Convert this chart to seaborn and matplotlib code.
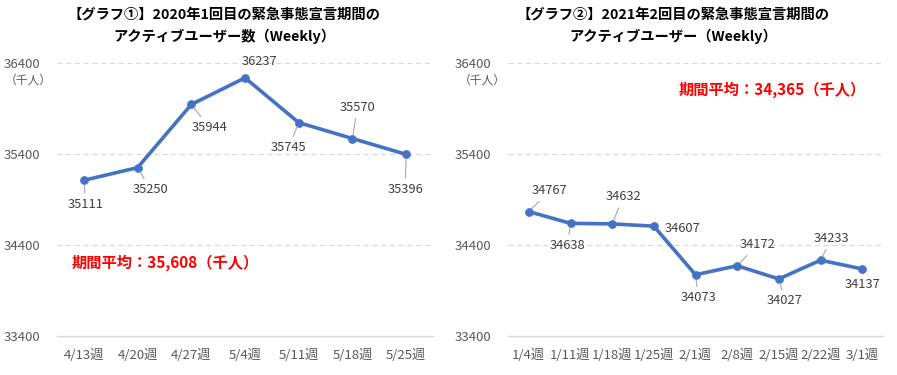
import matplotlib
matplotlib.use("Agg")
import matplotlib.pyplot as plt
import seaborn as sns
import pandas as pd

sns.set_theme(style="white")
plt.rcParams['font.family'] = ['Noto Sans CJK JP', 'DejaVu Sans']

# ---- data ----
weeks1 = ["4/13週", "4/20週", "4/27週", "5/4週", "5/11週", "5/18週", "5/25週"]
users1 = [35111, 35250, 35944, 36237, 35745, 35570, 35396]
title1 = "【グラフ①】2020年1回目の緊急事態宣言期間の\nアクティブユーザー数（Weekly）"
avg1 = "期間平均：35,608（千人）"

weeks2 = ["1/4週", "1/11週", "1/18週", "1/25週", "2/1週", "2/8週", "2/15週", "2/22週", "3/1週"]
users2 = [34767, 34638, 34632, 34607, 34073, 34172, 34027, 34233, 34137]
title2 = "【グラフ②】2021年2回目の緊急事態宣言期間の\nアクティブユーザー（Weekly）"
avg2 = "期間平均：34,365（千人）"

yticks = [33400, 34400, 35400, 36400]
unit = "（千人）"

# label offsets in pixels (dx, dy) and whether to draw a leader line
offs1 = [(2, -24, True), (13, -22, True), (18, -23, True), (14, 16, False),
         (-10, -25, True), (5, 31, True), (-1, -35, True)]
offs2 = [(21, 21, True), (-3, -22, True), (11, 27, True), (29, -2, False),
         (3, -23, True), (20, 21, True), (6, -22, True), (11, 22, True), (0, -16, False)]

W, H = 897, 375
fig = plt.figure(figsize=(W / 100, H / 100), dpi=100)

LINE = "#4472C4"
GRAY = "#595959"


def draw(ax_rect, weeks, users, title, avg, offs, avg_pos, title_x, unit_x):
    ax = fig.add_axes(ax_rect)
    df = pd.DataFrame({"week": weeks, "users": users})
    sns.lineplot(data=df, x="week", y="users", ax=ax, color=LINE, lw=2.6,
                 marker="o", markersize=5.5, markeredgecolor=LINE, sort=False)
    ax.set_xlim(-0.5, len(weeks) - 0.5)
    ax.set_ylim(yticks[0], yticks[-1])
    ax.set_yticks(yticks)
    ax.set_xlabel("")
    ax.set_ylabel("")
    for s in ["top", "right", "left"]:
        ax.spines[s].set_visible(False)
    ax.spines["bottom"].set_color("#D9D9D9")
    ax.spines["bottom"].set_linewidth(1.0)
    for y in yticks[1:]:
        ax.axhline(y, color="#D9D9D9", lw=0.9, ls=(0, (4, 3)), zorder=0)
    ax.tick_params(axis="both", length=0, colors=GRAY, labelsize=9.5)
    ax.tick_params(axis="y", pad=12)
    ax.tick_params(axis="x", pad=9)
    for i, (v, (dx, dy, lead)) in enumerate(zip(users, offs)):
        ap = dict(arrowstyle="-", color="#A6A6A6", lw=0.8, shrinkA=1, shrinkB=3) if lead else None
        ax.annotate(str(v), xy=(i, v), xytext=(dx, dy), textcoords="offset pixels",
                    ha="center", va="center", fontsize=9.3, color="#404040",
                    arrowprops=ap)
    fig.text(avg_pos[0] / W, 1 - avg_pos[1] / H, avg, color="#FF0000",
             fontsize=11, fontweight="bold", ha="left", va="center")
    fig.text(title_x / W, 1 - 26 / H, title, ha="center", va="center",
             fontsize=10.3, fontweight="bold", color="#000000", linespacing=1.5)
    fig.text(unit_x / W, 1 - 80 / H, unit, ha="center", va="center",
             fontsize=8.5, color=GRAY)
    return ax


bottom = (H - 336) / H
height = (336 - 63) / H
draw([57 / W, bottom, 376 / W, height], weeks1, users1, title1, avg1, offs1,
     (72, 263), 224, 28)
draw([508 / W, bottom, 375 / W, height], weeks2, users2, title2, avg2, offs2,
     (679, 90), 673, 482)

fig.savefig("out.png", dpi=100)
